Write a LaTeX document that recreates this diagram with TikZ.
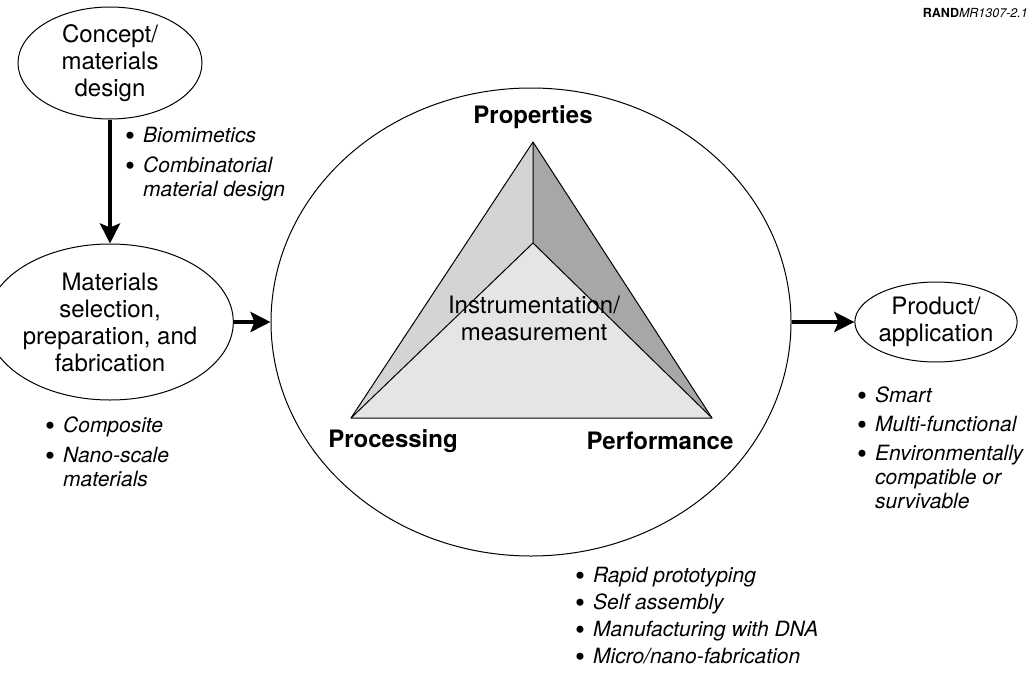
\documentclass[tikz,border=0pt]{standalone}
\usepackage{fontspec}
\setmainfont{TeX Gyre Heros}
\usetikzlibrary{shapes.geometric,arrows.meta}
\definecolor{faceL}{HTML}{D4D4D4}
\definecolor{faceR}{HTML}{A7A7A7}
\definecolor{faceB}{HTML}{E5E5E5}
\newcommand{\bl}{\makebox[18pt][l]{\upshape\raisebox{-3pt}{\scalebox{1.35}{•}}}}
\begin{document}
\begin{tikzpicture}[x=1pt,y=-1pt,
  lbl/.style={font=\fontsize{24}{27}\selectfont, align=center},
  oval/.style={ellipse, draw, line width=1pt, inner sep=0pt, lbl},
  corner/.style={font=\fontsize{24}{27}\selectfont\bfseries, inner sep=0pt},
  arr/.style={line width=4pt, -{Stealth[length=20pt,width=20pt,inset=4pt]}},
  items/.style={font=\fontsize{21}{24}\selectfont\itshape, anchor=base west, inner sep=0pt},
  edge/.style={line width=1pt, line join=round}]
\useasboundingbox (0,0) rectangle (1030,677);

% left column and product
\node[oval, minimum width=184pt, minimum height=112pt] (concept) at (110,63) {Concept/\\materials\\design};
\node[oval, minimum width=196pt, minimum height=156pt] (materials) at (110,322) {Materials\\selection,\\preparation, and\\fabrication};
\node[oval, minimum width=158pt, minimum height=80pt] (product) at (936,322) {Product/\\application};

% central ellipse
\node[ellipse, draw, line width=1pt, minimum width=520pt, minimum height=468pt, inner sep=0pt] (core) at (531,322) {};

% triangle
\coordinate (P) at (533,142);
\coordinate (C) at (533,243);
\coordinate (L) at (351,418);
\coordinate (R) at (712,418);
\fill[faceL] (P) -- (C) -- (L) -- cycle;
\fill[faceR] (P) -- (R) -- (C) -- cycle;
\fill[faceB] (C) -- (L) -- (R) -- cycle;
\draw[edge] (P) -- (L) -- (R) -- cycle;
\draw[edge] (P) -- (C) -- (L);
\draw[edge] (C) -- (R);

\node[lbl, inner sep=0pt] (instr) at (534,318) {Instrumentation/\\measurement};
\node[corner] (props) at (533,117) {Properties};
\node[corner] (proc) at (393,441) {Processing};
\node[corner] (perf) at (660,441) {Performance};

% arrows
\draw[arr] (concept) -- (materials);
\draw[arr] (materials) -- (core);
\draw[arr] (core) -- (product);

% bullet lists
\node[items] (conceptlist) at (125,142) {\begin{tabular}[t]{@{}l@{}l@{}}\bl & Biomimetics\\[6pt] \bl & Combinatorial\\ & material design\end{tabular}};
\node[items] (matlist) at (45,432) {\begin{tabular}[t]{@{}l@{}l@{}}\bl & Composite\\[6pt] \bl & Nano-scale\\ & materials\end{tabular}};
\node[items] (prodlist) at (857,402) {\begin{tabular}[t]{@{}l@{}l@{}}\bl & Smart\\[5pt] \bl & Multi-functional\\[5pt] \bl & Environmentally\\ & compatible or\\ & survivable\end{tabular}};
\node[items] (proclist) at (575,582) {\begin{tabular}[t]{@{}l@{}l@{}}\bl & Rapid prototyping\\[3pt] \bl & Self assembly\\[3pt] \bl & Manufacturing with DNA\\[3pt] \bl & Micro/nano-fabrication\end{tabular}};

% tag
\node[anchor=east, inner sep=0pt, font=\fontsize{12.5}{14}\selectfont] (tag) at (1028,13) {\textbf{RAND}\textit{MR1307-2.1}};
\end{tikzpicture}
\end{document}
